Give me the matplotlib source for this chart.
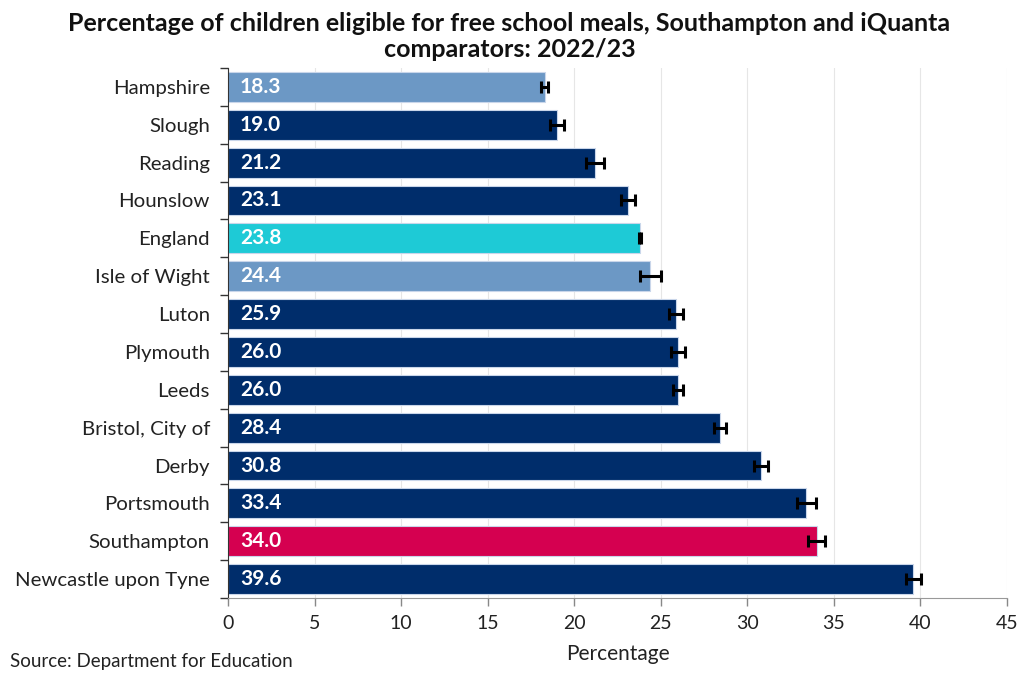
import matplotlib.pyplot as plt
from matplotlib.ticker import FixedLocator, NullFormatter

plt.rcParams['font.family'] = ['Lato', 'DejaVu Sans']

areas = ["Hampshire", "Slough", "Reading", "Hounslow", "England", "Isle of Wight",
         "Luton", "Plymouth", "Leeds", "Bristol, City of", "Derby", "Portsmouth",
         "Southampton", "Newcastle upon Tyne"]
values = [18.3, 19.0, 21.2, 23.1, 23.8, 24.4, 25.9, 26.0, 26.0, 28.4, 30.8, 33.4, 34.0, 39.6]
ci_half = [0.2, 0.4, 0.5, 0.4, 0.05, 0.6, 0.4, 0.4, 0.3, 0.35, 0.4, 0.55, 0.5, 0.45]

NAVY = "#002D6B"
LIGHT = "#6C98C5"
CYAN = "#1ECAD6"
PINK = "#D50050"
colour_of = {"Hampshire": LIGHT, "Isle of Wight": LIGHT, "England": CYAN, "Southampton": PINK}
colours = [colour_of.get(a, NAVY) for a in areas]

fig = plt.figure(figsize=(10.19, 6.73), dpi=100)
ax = fig.add_axes([0.2237, 0.1114, 0.7645, 0.7876])

pos = list(range(len(areas)))
ax.barh(pos, values, height=0.79, color=colours, edgecolor="#C9D6EA", linewidth=0.8, zorder=2)
ax.errorbar(values, pos, xerr=ci_half, fmt="none", ecolor="black", elinewidth=2.2,
            capsize=4, capthick=2.2, zorder=3)

for p, v in zip(pos, values):
    ax.text(0.7, p, f"{v:.1f}", color="white", fontsize=15, fontweight="bold",
            va="center", ha="left", zorder=4)

ax.set_ylim(len(areas) - 0.5, -0.5)
ax.set_xlim(0, 45)
ax.set_xticks(range(0, 46, 5))
ax.set_yticks(pos)
ax.set_yticklabels(areas, fontsize=14.7, color="#222222")
ax.yaxis.set_minor_locator(FixedLocator([p + 0.5 for p in range(-1, len(areas))]))
ax.yaxis.set_minor_formatter(NullFormatter())
ax.tick_params(axis="y", which="major", length=0, pad=13)
ax.tick_params(axis="y", which="minor", length=6, width=1, color="#333333")
ax.tick_params(axis="x", length=6, width=1, color="#888888", labelsize=14,
               labelcolor="#222222", pad=6)

ax.grid(axis="x", color="#E6E6E6", linewidth=0.8, zorder=0)
ax.set_axisbelow(True)
for side in ("top", "right"):
    ax.spines[side].set_visible(False)
ax.spines["left"].set_color("#333333")
ax.spines["bottom"].set_color("#999999")

ax.set_xlabel("Percentage", fontsize=15, color="#222222", labelpad=9)

fig.text(0.5, 0.982, "Percentage of children eligible for free school meals, Southampton and iQuanta\ncomparators: 2022/23",
         ha="center", va="top", fontsize=18, fontweight="bold", color="#111111", linespacing=1.15)
fig.text(0.01, 0.004, "Source: Department for Education", ha="left", va="bottom",
         fontsize=13.5, color="#222222")

fig.savefig("out.png", dpi=100)
